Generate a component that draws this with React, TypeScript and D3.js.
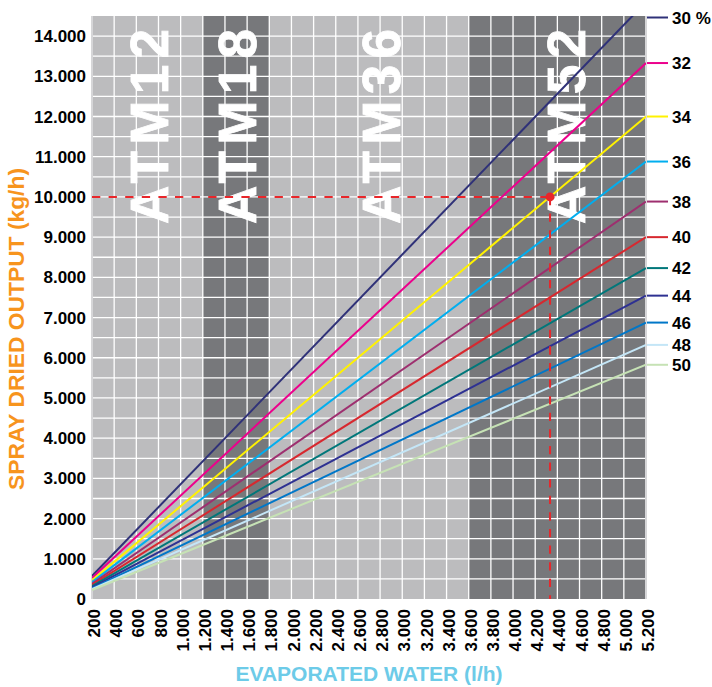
import React from "react";
import * as d3 from "d3";

const W = 712;
const H = 687;
const margin = { left: 92, right: 66, top: 16, bottom: 88 };

// Evaporated water (l/h) range and ticks
const waterStart = 200;
const waterEnd = 5200;
const xTicks = d3.range(200, 5201, 200);
const yTicks = d3.range(0, 14001, 1000);
const yMax = 14500;

// Series: slurry moisture (%) and spray dried output (kg/h) at both ends
const moisture = [30, 32, 34, 36, 38, 40, 42, 44, 46, 48, 50];
const outputAtStart = [571, 523, 463, 420, 382, 348, 318, 291, 267, 245, 225];
const outputAtEnd = [14850, 13330, 12000, 10880, 9885, 9000, 8230, 7545, 6875, 6320, 5825];
const seriesColors = [
  "#2f3178", "#ec008c", "#fff200", "#00aeef", "#9e2f6f", "#d7282f",
  "#00777a", "#2e3192", "#0077c8", "#c4e6f7", "#c6e2b5",
];

// Atomizer bands
const bandNames = ["ATM12", "ATM18", "ATM36", "ATM52"];
const bandFrom = [200, 1200, 1800, 3600];
const bandTo = [1200, 1800, 3600, 5200];
const bandDark = [false, true, false, true];
const bandLabelAt = [715, 1512, 2810, 4480];

// Reading example
const exampleWater = 4334;
const exampleOutput = 10000;

const fmt = d3.formatLocale({ decimal: ",", thousands: ".", grouping: [3], currency: ["", ""] }).format(",");

const FONT = "'Liberation Sans', Arial, Helvetica, sans-serif";

export default function App() {
  const x = d3.scaleLinear().domain([waterStart, waterEnd]).range([margin.left, W - margin.right]);
  const y = d3.scaleLinear().domain([0, yMax]).range([H - margin.bottom, margin.top]);
  const x0 = x.range()[0];
  const x1 = x.range()[1];
  const y0 = y.range()[0];
  const y1 = y.range()[1];
  const line = d3.line<[number, number]>().x((d) => x(d[0])).y((d) => y(d[1]));
  const gridY = d3.range(500, yMax, 500);

  return (
    <svg width={W} height={H} style={{ position: "absolute", left: 0, top: 0, background: "#fff" }} fontFamily={FONT}>
      <defs>
        <clipPath id="plot">
          <rect x={x0} y={y1} width={x1 - x0} height={y0 - y1} />
        </clipPath>
      </defs>
      {bandNames.map((n, i) => (
        <rect key={n} x={x(bandFrom[i])} y={y1} width={x(bandTo[i]) - x(bandFrom[i])} height={y0 - y1}
          fill={bandDark[i] ? "#77787b" : "#bcbcbe"} />
      ))}
      {gridY.map((v) => (
        <line key={"gy" + v} x1={x0} x2={x1} y1={y(v)} y2={y(v)} stroke="#fff" strokeWidth={1.3} />
      ))}
      {xTicks.slice(1, -1).map((v) => (
        <line key={"gx" + v} x1={x(v)} x2={x(v)} y1={y1} y2={y0} stroke="#fff" strokeWidth={1.3} />
      ))}
      <line x1={x0} x2={x0} y1={y1} y2={y0} stroke="#d6d6d8" strokeWidth={2} />
      <line x1={x1} x2={x1} y1={y1} y2={y0} stroke="#d6d6d8" strokeWidth={2} />
      {bandNames.map((n, i) => (
        <text key={"bl" + n} transform={`translate(${x(bandLabelAt[i])},224) rotate(-90)`} dy="0.358em"
          fill="#fff" stroke="#fff" strokeWidth={0.8} fontWeight="bold" fontSize={53} textLength={195}
          lengthAdjust="spacing">{n}</text>
      ))}
      <g clipPath="url(#plot)">
        {moisture.map((m, i) => (
          <path key={"s" + m} d={line([[waterStart, outputAtStart[i]], [waterEnd, outputAtEnd[i]]]) || ""}
            fill="none" stroke={seriesColors[i]} strokeWidth={2} />
        ))}
      </g>
      {moisture.map((m, i) => {
        const yy = Math.max(y(outputAtEnd[i]), y1 + 1.5);
        return (
          <g key={"lab" + m}>
            <line x1={x1 + 1} x2={x1 + 22} y1={yy} y2={yy} stroke={seriesColors[i]} strokeWidth={2} />
            <text x={x1 + 26} y={yy} dy="0.36em" fontWeight="bold" fontSize={17} fill="#000">
              {i === 0 ? `${m} %` : `${m}`}
            </text>
          </g>
        );
      })}
      <line x1={x0} x2={x(exampleWater)} y1={y(exampleOutput)} y2={y(exampleOutput)} stroke="#e8262a"
        strokeWidth={2} strokeDasharray="8.3 8.3" />
      <line x1={x(exampleWater)} x2={x(exampleWater)} y1={y(exampleOutput)} y2={y0} stroke="#e8262a"
        strokeWidth={2} strokeDasharray="8.3 8.3" />
      <circle cx={x(exampleWater)} cy={y(exampleOutput)} r={4.5} fill="#e8262a" />
      {yTicks.map((v) => (
        <text key={"yt" + v} x={x0 - 6} y={y(v)} dy="0.36em" textAnchor="end" fontWeight="bold" fontSize={17} fill="#000">
          {fmt(v)}
        </text>
      ))}
      {xTicks.map((v) => (
        <text key={"xt" + v} transform={`translate(${x(v) + 2},${y0 + 10}) rotate(-90)`} dy="0.36em"
          textAnchor="end" fontWeight="bold" fontSize={17} fill="#000">
          {fmt(v)}
        </text>
      ))}
      <text transform={`translate(16,329) rotate(-90)`} dy="0.358em" textAnchor="middle" fontWeight="bold"
        fontSize={22} fill="#f7941d" textLength={322} lengthAdjust="spacingAndGlyphs">SPRAY DRIED OUTPUT (kg/h)</text>
      <text x={369} y={681} textAnchor="middle" fontWeight="bold" fontSize={21} fill="#6dcbe8">EVAPORATED WATER (l/h)</text>
    </svg>
  );
}
